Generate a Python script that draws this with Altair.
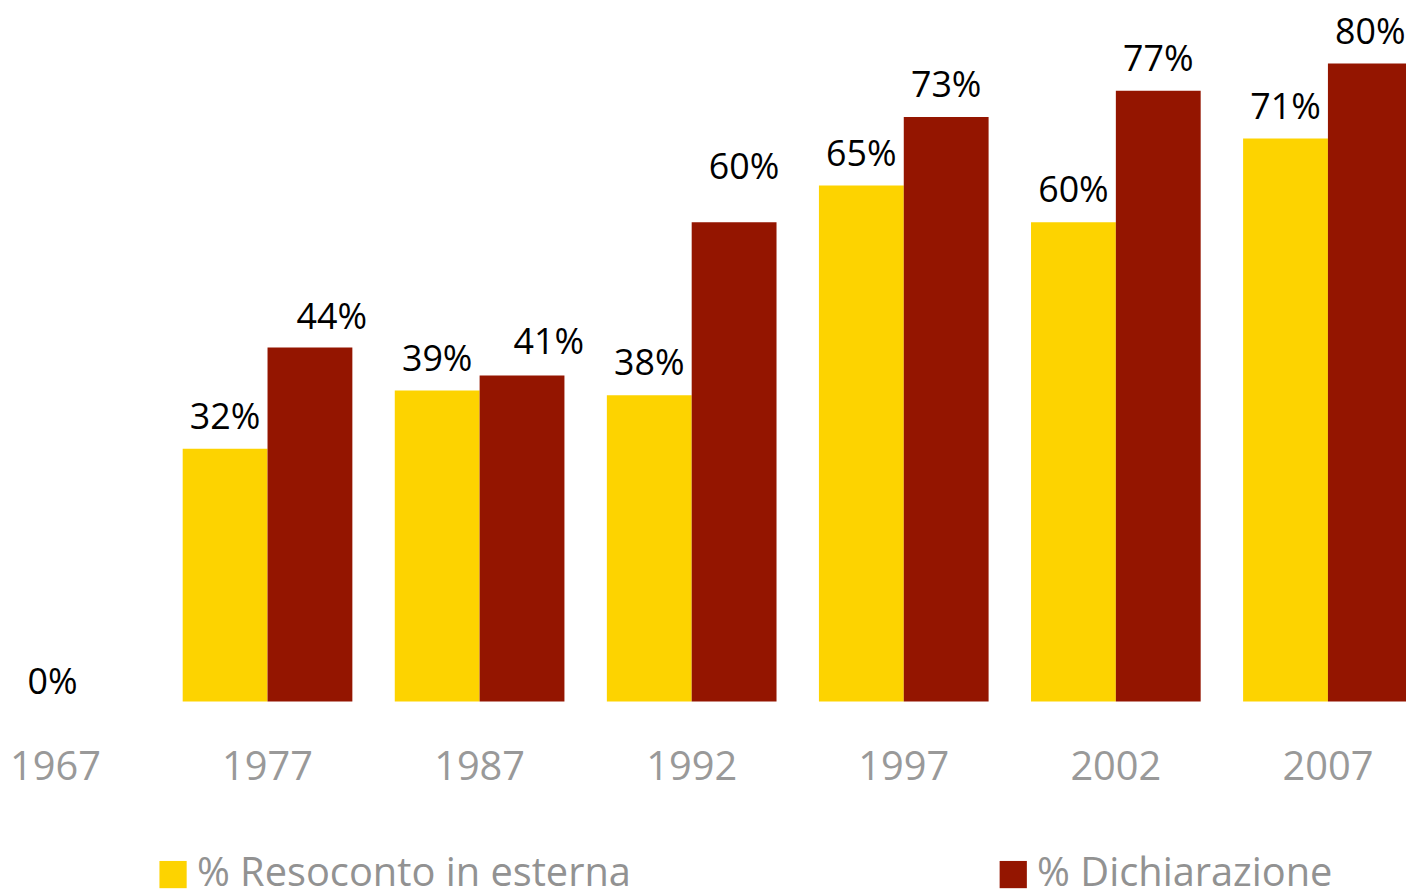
import altair as alt
import pandas as pd

years = ["1967", "1977", "1987", "1992", "1997", "2002", "2007"]
resoconto = [0, 31.7, 39.0, 38.4, 64.7, 60.1, 70.6]
dichiarazione = [None, 44.4, 40.9, 60.1, 73.3, 76.6, 80.0]
series = ["% Resoconto in esterna", "% Dichiarazione"]
colors = ["#FDD300", "#941500"]

rows = []
for yr, a, b in zip(years, resoconto, dichiarazione):
    rows.append({"year": yr, "series": series[0], "value": a})
    if b is not None:
        rows.append({"year": yr, "series": series[1], "value": b})
df = pd.DataFrame(rows)
df["label"] = df["value"].round().astype(int).astype(str) + "%"

FONT = "Open Sans"

xscale = alt.Scale(domain=years, range=[-37.6, 1412.8], paddingInner=0.2, paddingOuter=0)
yscale = alt.Scale(domain=[0, 86.66], nice=False, zero=True)
offscale = alt.Scale(paddingInner=0, paddingOuter=0)

x_enc = alt.X(
    "year:N", sort=years, scale=xscale,
    axis=alt.Axis(title=None, labelFontSize=40, labelColor="#999999", labelFont=FONT,
                  domain=False, ticks=False, tickSize=0, labelPadding=46, grid=False,
                  labelAngle=0),
)
y_enc = alt.Y("value:Q", scale=yscale, axis=None)
off_enc = alt.XOffset("series:N", sort=series, scale=offscale)

base = alt.Chart(df)

bars = base.mark_bar().encode(
    x=x_enc,
    xOffset=off_enc,
    y=y_enc,
    color=alt.Color(
        "series:N", sort=series,
        scale=alt.Scale(domain=series, range=colors),
        legend=alt.Legend(
            orient="none", legendX=146, legendY=849, direction="horizontal",
            title=None, symbolType="square", symbolSize=750, symbolStrokeWidth=0,
            labelFontSize=40, labelColor="#929292", labelFont=FONT, labelOffset=4,
            columnPadding=364, padding=0, labelLimit=1000,
        ),
    ),
)

text_style = dict(fontSize=36, font=FONT, color="black", baseline="alphabetic")
red = series[1]

# labels placed directly above their bars
plain = (
    "datum.year != '1967' && !(datum.series == '% Dichiarazione' && "
    "(datum.year == '1977' || datum.year == '1987' || datum.year == '1992'))"
)
labels = base.transform_filter(plain).mark_text(dy=-20, **text_style).encode(
    x=x_enc, xOffset=off_enc, y=y_enc, text="label:N")


def nudged(year, dx, dy):
    return base.transform_filter(
        f"datum.year == '{year}' && datum.series == '% Dichiarazione'"
    ).mark_text(dx=dx, dy=dy, **text_style).encode(
        x=x_enc, xOffset=off_enc, y=y_enc, text="label:N")


lab77 = nudged("1977", 22, -19)
lab87 = nudged("1987", 27, -22)
lab92 = nudged("1992", 10, -44)

zero = base.transform_filter("datum.year == '1967'").mark_text(
    dy=-8, dx=-3, **text_style
).encode(x=x_enc, y=y_enc, text="label:N")

chart = alt.layer(bars, labels, lab77, lab87, lab92, zero).properties(
    width=1406, height=695,
    autosize=alt.AutoSizeParams(type="none"),
    padding={"left": 0, "top": 0, "right": 0, "bottom": 187},
).configure_view(stroke=None)

chart.save("out.html", embed_options={"renderer": "svg", "actions": False})
